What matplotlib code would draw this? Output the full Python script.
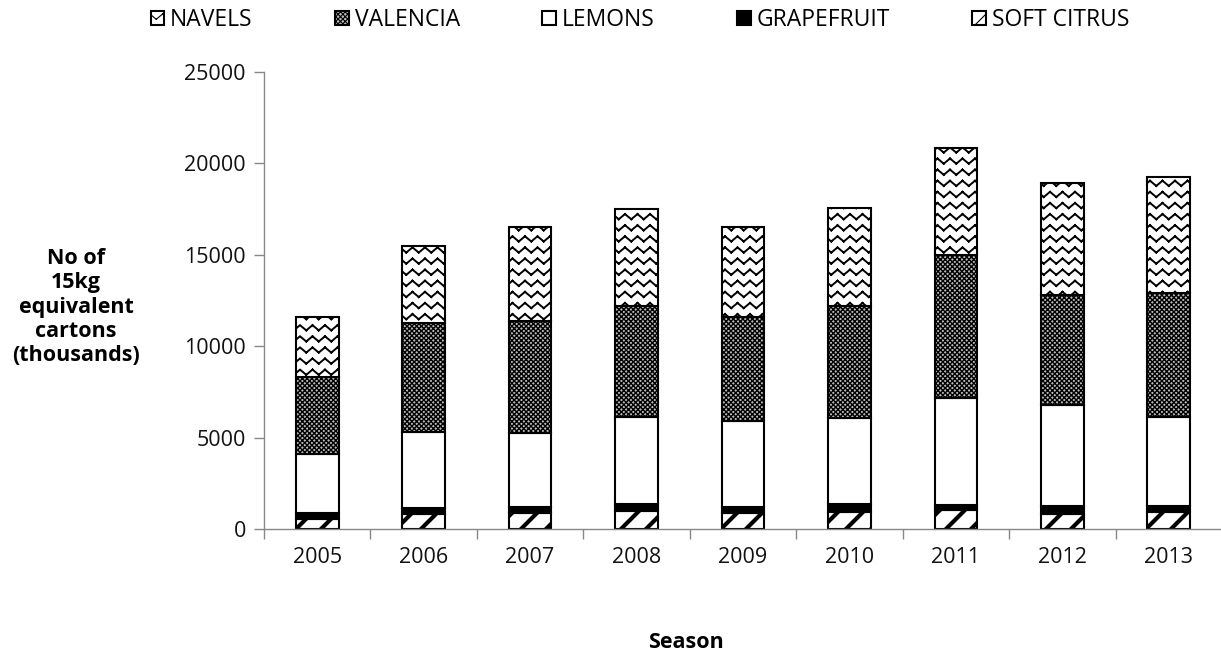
import warnings
import numpy as np
import matplotlib
matplotlib.use("Agg")
import matplotlib.pyplot as plt
from matplotlib import hatch as mhatch
from matplotlib.path import Path

warnings.filterwarnings("ignore")

seasons = ["2005", "2006", "2007", "2008", "2009", "2010", "2011", "2012", "2013"]
soft_citrus = [565, 800, 880, 1000, 880, 910, 1040, 820, 910]
grapefruit = [335, 340, 300, 370, 340, 460, 260, 460, 370]
lemons = [3200, 4140, 4070, 4740, 4670, 4680, 5870, 5480, 4840]
valencia = [4200, 5980, 6110, 6070, 5690, 6130, 7840, 6030, 6800]
navels = [3320, 4240, 5180, 5320, 4920, 5360, 5820, 6160, 6320]


# matplotlib has no wavy hatch, so register one ('w'); drawn as separate
# segments because agg also fills hatch paths
class WaveHatch(mhatch.HatchPatternBase):
    def __init__(self, hatch, density):
        self.rows = 9 * hatch.count("w")
        self.waves = 8
        self.num_vertices = self.rows * self.waves * 2 * 2

    def set_vertices_and_codes(self, vertices, codes):
        n = 2 * self.waves
        xs = np.linspace(0, 1, n + 1)
        k = 0
        for r in range(self.rows):
            y0 = (r + 0.5) / self.rows
            for i in range(n):
                ya = y0 + (0.026 if i % 2 == 0 else -0.026)
                yb = y0 + (-0.026 if i % 2 == 0 else 0.026)
                vertices[k] = (xs[i], ya)
                vertices[k + 1] = (xs[i + 1], yb)
                codes[k] = Path.MOVETO
                codes[k + 1] = Path.LINETO
                k += 2


# thick diagonal stripes ('s'), 8 per inch
class StripeHatch(mhatch.HatchPatternBase):
    def __init__(self, hatch, density):
        self.lines = 8 * hatch.count("s")
        self.num_vertices = (self.lines + 1) * 2 if self.lines else 0

    def set_vertices_and_codes(self, vertices, codes):
        steps = np.linspace(-0.5, 0.5, self.lines + 1)
        vertices[0::2, 0] = 0.0 + steps
        vertices[0::2, 1] = 0.0 - steps
        vertices[1::2, 0] = 1.0 + steps
        vertices[1::2, 1] = 1.0 - steps
        codes[0::2] = Path.MOVETO
        codes[1::2] = Path.LINETO


mhatch._hatch_types.append(WaveHatch)
mhatch._hatch_types.append(StripeHatch)

plt.rcParams["font.family"] = ["Open Sans", "DejaVu Sans"]

fig = plt.figure(figsize=(12.21, 6.55), dpi=100)
ax = fig.add_axes([264 / 1221, 126 / 655, 958 / 1221, 457 / 655])

x = np.arange(len(seasons))
w = 0.40

layers = [
    ("SOFT CITRUS", soft_citrus, "white", "s", 3.0),
    ("GRAPEFRUIT", grapefruit, "black", None, 1.0),
    ("LEMONS", lemons, "white", None, 1.0),
    ("VALENCIA", valencia, "#bdbdbd", "xxxxxxx", 1.0),
    ("NAVELS", navels, "white", "w", 1.4),
]

bottom = np.zeros(len(seasons))
handles = {}
for name, vals, fc, hatch, hlw in layers:
    plt.rcParams["hatch.linewidth"] = hlw
    bars = ax.bar(x, vals, w, bottom=bottom, color=fc, hatch=hatch, label=name,
                  edgecolor="black", linewidth=1.5)
    for b in bars:
        if hasattr(b, "set_hatch_linewidth"):
            b.set_hatch_linewidth(hlw)
    handles[name] = bars
    bottom += np.array(vals)

ax.set_xlim(-0.5, len(seasons) - 0.5)
ax.set_ylim(0, 25000)
ax.set_yticks(range(0, 25001, 5000))
ax.set_xticks(x)
ax.set_xticklabels(seasons)
ax.set_xticks(np.arange(-0.5, len(seasons), 1.0), minor=True)
ax.tick_params(axis="x", which="major", length=0, pad=13, labelsize=15.5, labelcolor="#111111")
ax.tick_params(axis="x", which="minor", length=7, color="#888888", width=1)
ax.tick_params(axis="y", length=7, color="#888888", width=1, pad=6, labelsize=15.5,
               labelcolor="#111111")

for s in ["top", "right"]:
    ax.spines[s].set_visible(False)
for s in ["left", "bottom"]:
    ax.spines[s].set_color("#888888")
    ax.spines[s].set_linewidth(1)

fig.text(76 / 1221, 1 - 307 / 655, "No of\n15kg\nequivalent\ncartons\n(thousands)",
         ha="center", va="center", fontsize=15.5, fontweight="bold", linespacing=1.2)
fig.text(686 / 1221, 1 - 643 / 655, "Season", ha="center", va="center",
         fontsize=15.5, fontweight="bold")

order = ["NAVELS", "VALENCIA", "LEMONS", "GRAPEFRUIT", "SOFT CITRUS"]
plt.rcParams["hatch.linewidth"] = 0.8
fig.legend([handles[n] for n in order], order, loc="center", ncol=5,
           bbox_to_anchor=(640 / 1221, 1 - 20 / 655), frameon=False, fontsize=16.5,
           handlelength=0.6, handleheight=0.6, handletextpad=0.25, columnspacing=3.6,
           borderpad=0.2)

fig.savefig("out.png", dpi=100)
